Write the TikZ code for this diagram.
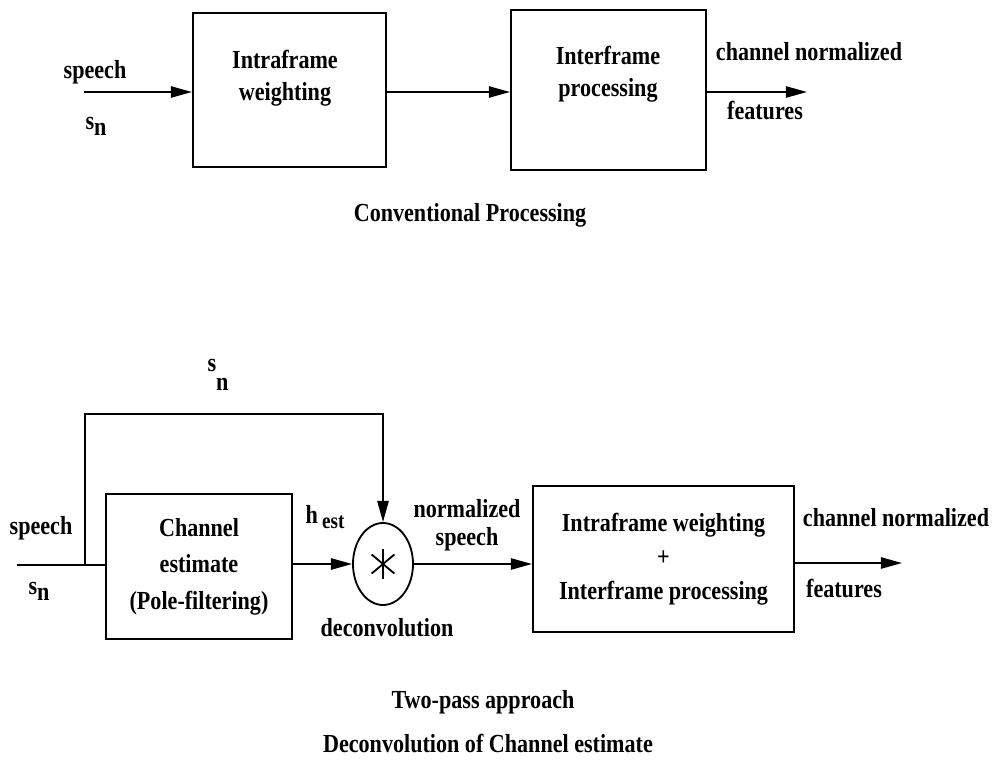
\documentclass[tikz,border=0pt]{standalone}
\usepackage{fontspec}
\setmainfont{Liberation Serif}[FakeStretch=0.85]
\usetikzlibrary{arrows.meta, positioning, shapes.geometric}

\begin{document}
\begin{tikzpicture}[
    x=0.025cm, y=-0.025cm,
    >={Triangle[length=15pt,width=8pt]},
    every node/.style={font=\fontsize{18.5}{23}\selectfont\bfseries},
    box/.style={draw=black, line width=1.3pt, inner sep=0pt},
    txt/.style={align=center, inner sep=1pt},
    flow/.style={draw=black, line width=1.3pt, ->},
    wire/.style={draw=black, line width=1.3pt}
]
\useasboundingbox (0,0) rectangle (992,762);

% Conventional processing
\node[box, minimum width=4.83cm, minimum height=3.85cm] (intra) at (289.5,90) {};
\node[txt] (intratxt) at (285,78) {Intraframe\\weighting};
\node[box, minimum width=4.88cm, minimum height=3.98cm] (inter) at (608.5,90) {};
\node[txt] (intertxt) at (608,74) {Interframe\\processing};

\coordinate (topin) at (84,92);
\coordinate (topout) at (807,92);

\node[txt] (speechA) at (95,72) {speech};
\node[txt] (snA) at (96,126) {s\raisebox{-0.5ex}{n}};
\node[txt] (cnfA) at (809,52) {channel normalized};
\node[txt] (featA) at (765,110) {features};
\node[txt] (convtitle) at (470,215) {Conventional Processing};

\draw[flow] (topin) -- (topin -| intra.west);
\draw[flow] (intra.east |- topin) -- (inter.west |- topin);
\draw[flow] (inter.east |- topout) -- (topout);

% Two-pass approach
\node[box, minimum width=4.65cm, minimum height=3.63cm] (chan) at (199,566.5)
    {\begin{tabular}{@{}c@{}}Channel\\[3pt] estimate\\[3pt] (Pole-filtering)\end{tabular}};
\node[box, ellipse, minimum width=1.5cm, minimum height=2.05cm] (deconv) at (383,564) {};
\node[box, minimum width=6.53cm, minimum height=3.65cm] (post) at (663.5,559)
    {\begin{tabular}{@{}c@{}}Intraframe weighting\\[1pt] +\\[1pt] Interframe processing\end{tabular}};

% convolution star
\foreach \ang in {90,40,140}
  \draw[line width=1.3pt] ([shift={(\ang:0.37cm)}]deconv.center) -- ([shift={(\ang+180:0.37cm)}]deconv.center);

\coordinate (botin) at (17,565);
\coordinate (branch) at (85,565);
\coordinate (loopL) at (85,414);
\coordinate (loopR) at (383,414);
\coordinate (botout) at (902,563);

\node[txt] (speechB) at (41,528) {speech};
\node[txt] (snB) at (39,591) {s\raisebox{-0.5ex}{n}};
\node[txt] (snloop) at (218,375) {s\raisebox{-0.75em}{n}};
\node[txt] (hest) at (325,517) {h\,\raisebox{-0.45ex}{\fontsize{16}{16}\selectfont est}};
\node[txt, font=\fontsize{18.5}{20}\selectfont\bfseries] (normsp) at (467,525) {normalized\\speech};
\node[txt] (decvtxt) at (387,628) {deconvolution};
\node[txt] (cnfB) at (896,518) {channel normalized};
\node[txt] (featB) at (844,588) {features};
\node[txt] (twopass) at (483,702) {Two-pass approach};
\node[txt] (decchan) at (488,743) {Deconvolution of Channel estimate};

\draw[wire] (botin) -- (botin -| chan.west);
\draw[flow] (branch) -- (loopL) -- (loopR) -- (deconv.north);
\draw[flow] (chan.east |- deconv.west) -- (deconv.west);
\draw[flow] (deconv.east) -- (post.west |- deconv.east);
\draw[flow] (post.east |- botout) -- (botout);

\end{tikzpicture}
\end{document}
